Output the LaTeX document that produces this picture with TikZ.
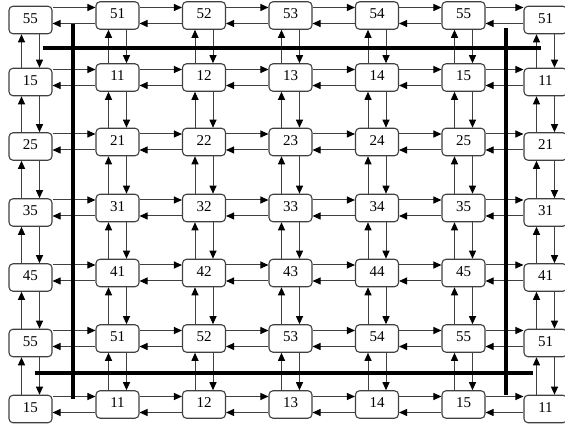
\documentclass[tikz,border=0pt]{standalone}
\usepackage{fontspec}
\setmainfont{Liberation Serif}
\usetikzlibrary{arrows.meta}
\tikzset{
  cell/.style={draw=black!75, line width=1.1pt, rounded corners=4pt, fill=white,
    minimum width=43pt, minimum height=27.5pt, inner sep=0pt,
    font=\fontsize{15}{15}\selectfont},
  link/.style={draw=black!75, line width=1pt, -{Triangle[length=8pt,width=7pt,black]}},
  wall/.style={line width=4pt, black}
}

\begin{document}
\begin{tikzpicture}[x=1pt, y=-1pt]
\useasboundingbox (0,0) rectangle (565,427);
% cells: row digit and column digit
\foreach \r/\rd/\y in {0/5/15.5, 1/1/77.5, 2/2/142, 3/3/208, 4/4/273, 5/5/338.5, 6/1/404.5}
  \foreach \c/\cd/\x/\dy in {0/5/30.5/4.5, 1/1/117.5/0, 2/2/204/0, 3/3/290.5/0, 4/4/377/0, 5/5/463.5/0, 6/1/545.5/4.5}
    \node[cell] (n-\r-\c) at (\x,\y+\dy) {\raisebox{3pt}{\rd\cd}};
% horizontal links
\foreach \r in {0,...,6}
  \foreach \c in {0,...,5} {
    \pgfmathtruncatemacro\nc{\c+1}
    \draw[link] ([yshift=8pt]n-\r-1.center -| n-\r-\c.east) -- ([yshift=8pt]n-\r-1.center -| n-\r-\nc.west);
    \draw[link] ([yshift=-8pt]n-\r-1.center -| n-\r-\nc.west) -- ([yshift=-8pt]n-\r-1.center -| n-\r-\c.east);
  }
% vertical links
\foreach \c in {0,...,6}
  \foreach \r in {0,...,5} {
    \pgfmathtruncatemacro\nr{\r+1}
    \draw[link] ([xshift=-9pt]n-\nr-\c.north) -- ([xshift=-9pt]n-\r-\c.south);
    \draw[link] ([xshift=9pt]n-\r-\c.south) -- ([xshift=9pt]n-\nr-\c.north);
  }
% boundary walls
\draw[wall] (42.7,48) -- (541,48);
\draw[wall] (35,372.7) -- (532.7,372.7);
\draw[wall] (72.7,24) -- (72.7,399);
\draw[wall] (506,28.3) -- (506,395);
\end{tikzpicture}
\end{document}
